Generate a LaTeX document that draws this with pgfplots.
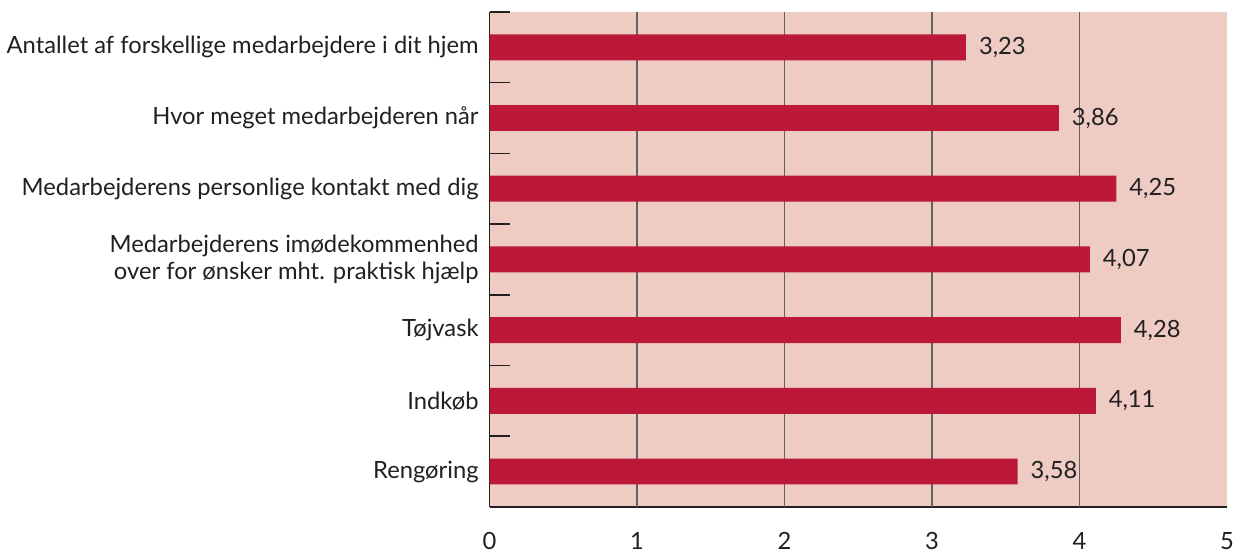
\documentclass[border=0pt]{standalone}
\usepackage{pgfplots}
\pgfplotsset{compat=1.18}
\usepackage{fontspec}
\setmainfont{Lato}
\definecolor{bg}{HTML}{EECCC4}
\definecolor{barc}{HTML}{BC1838}
\definecolor{txt}{HTML}{231F20}
\begin{document}
\begin{tikzpicture}
\begin{axis}[
 scale only axis, width=369.5pt, height=248pt,
 xmin=0, xmax=5, ymin=0.5, ymax=7.5,
 xbar, bar width=13pt,
 axis background/.style={fill=bg},
 axis x line*=bottom, axis y line*=left,
 axis line style={-, draw=txt, line width=0.8pt},
 xtick={0,1,2,3,4,5}, major tick length=0pt,
 xticklabel style={inner sep=0pt, yshift=-12.5pt},
 ytick={1,2,3,4,5,6,7},
 yticklabels={Rengøring, Indkøb, Tøjvask, {Medarbejderens imødekommenhed\\over for ønsker mht. praktisk hjælp}, {Medarbejderens personlige kontakt med dig}, {Hvor meget medarbejderen når}, {Antallet af forskellige medarbejdere i dit hjem}},
 yticklabel style={align=right, xshift=-2pt},
 minor ytick={0.5,1.5,2.5,3.5,4.5,5.5,6.5,7.5}, minor tick length=10pt, tick align=inside, ytick pos=left,
 tick style={draw=txt, line width=0.8pt},
 extra x ticks={1,2,3,4}, extra x tick labels={},
 extra x tick style={grid=major, major grid style={draw=black!62, line width=0.7pt}},
 tick label style={font=\fontsize{11.9}{13.5}\selectfont, text=txt},
 /pgf/number format/assume math mode=true,
 nodes near coords={\pgfmathprintnumber[fixed,fixed zerofill,precision=2,use comma]{\pgfplotspointmeta}},
 nodes near coords align=horizontal,
 every node near coord/.append style={font=\fontsize{11.9}{13.5}\selectfont, text=txt, xshift=3pt},
]
\addplot[fill=barc, draw=none] coordinates {(3.58,1) (4.11,2) (4.28,3) (4.07,4) (4.25,5) (3.86,6) (3.23,7)};
\end{axis}
\path ([xshift=-244pt,yshift=-22.5pt]current axis.south west) rectangle ([xshift=4pt,yshift=6pt]current axis.north east);
\end{tikzpicture}
\end{document}
